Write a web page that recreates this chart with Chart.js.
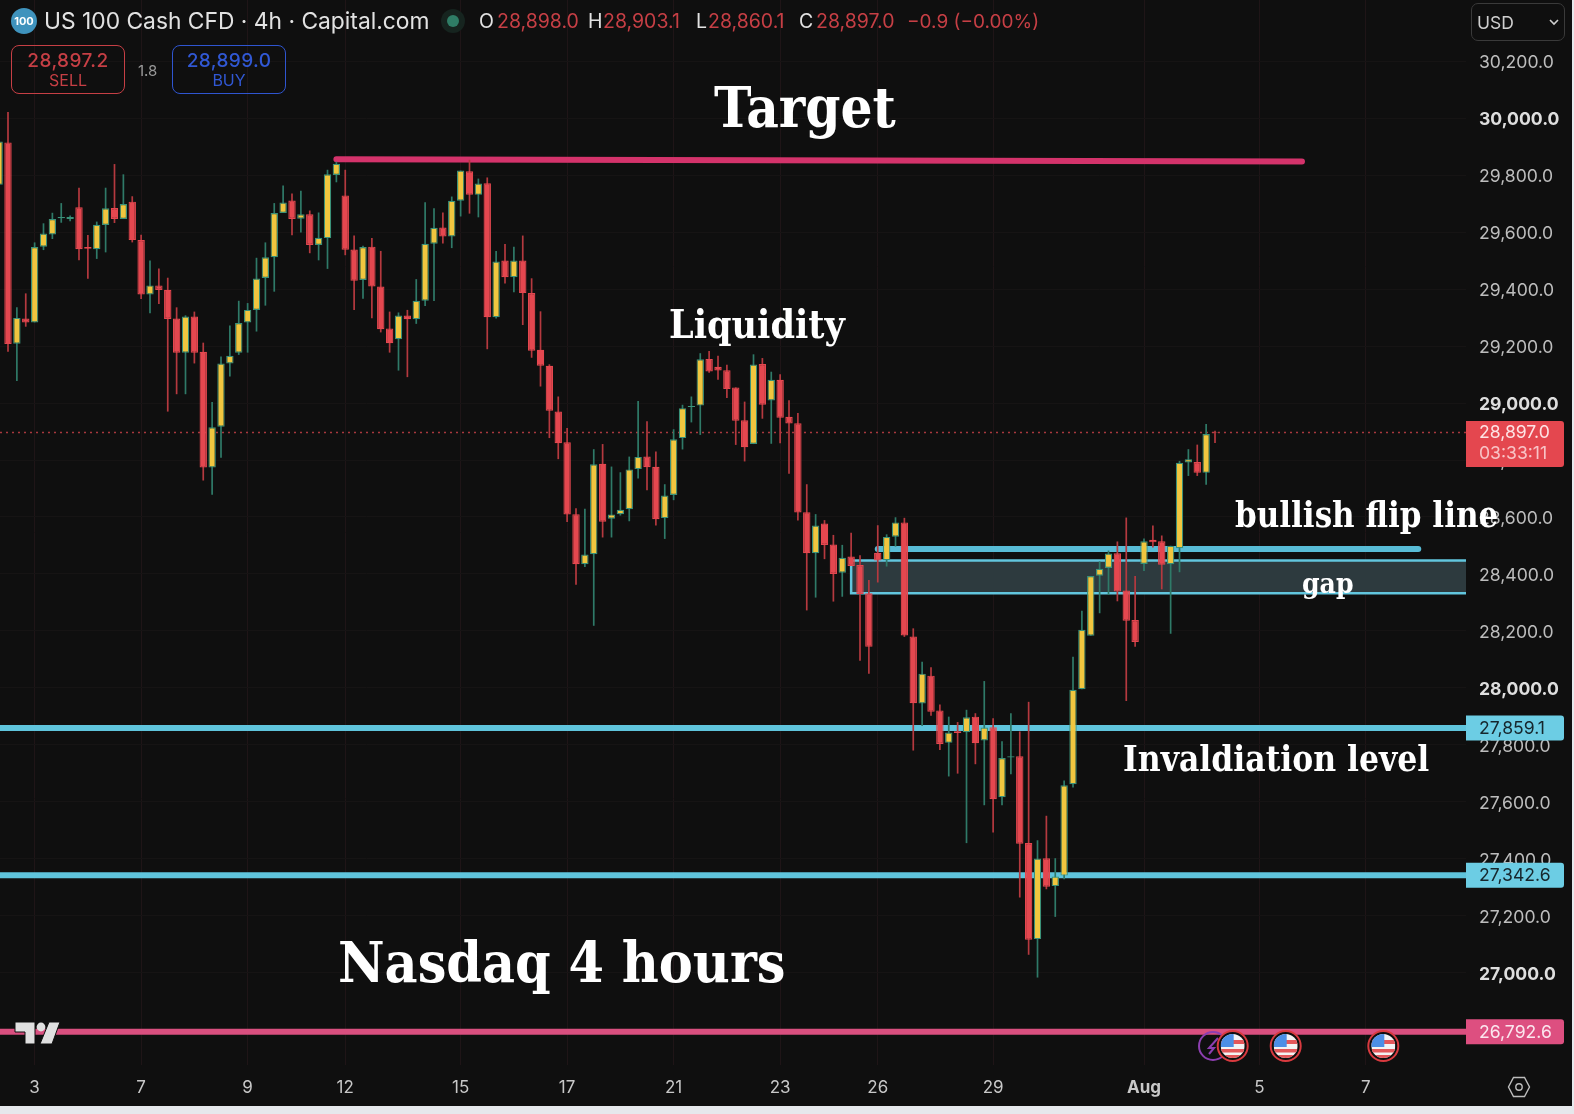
<!DOCTYPE html>
<html>
<head>
<meta charset="utf-8">
<title>US 100 Cash CFD 4h</title>
<script src="https://cdn.jsdelivr.net/npm/chart.js@4"></script>
<style>
  html, body { margin: 0; padding: 0; background: #e6e8ec; overflow: hidden; }
  #wrap { position: relative; width: 1572px; height: 1106px; background: #0f0f0f; font-family: Inter, sans-serif; }
  canvas { display: block; }
  .abs { position: absolute; white-space: nowrap; line-height: 1; }
  .note { position: absolute; white-space: nowrap; line-height: 1; color: #fff; font-weight: 700;
          font-family: "DejaVu Serif Condensed", "DejaVu Serif", serif; }
  .red { color: #c63f45; }
  .btn { position: absolute; top: 45px; width: 112px; height: 47px; border-radius: 8px; border: 1.5px solid; text-align: center; }
  .btn b { display: block; font-weight: 500; font-size: 19px; margin-top: 5px; line-height: 20px; letter-spacing: .4px; }
  .btn span { display: block; font-size: 16px; line-height: 19px; }
</style>
</head>
<body>
<div id="wrap">
  <canvas id="chart" width="1572" height="1106"></canvas>

  <div class="abs" style="left:11px;top:8px;width:26px;height:26px;border-radius:50%;background:#3f93bd;color:#fff;font-size:11px;font-weight:700;text-align:center;line-height:26px">100</div>
  <div class="abs" style="left:44px;top:10px;font-size:22.8px;color:#e2e2e2">US 100 Cash CFD · 4h · Capital.com</div>
  <div class="abs" style="left:441px;top:9px;width:24px;height:24px;border-radius:50%;background:#16241f"></div>
  <div class="abs" style="left:447px;top:15px;width:12px;height:12px;border-radius:50%;background:#2f7d66"></div>
  <div class="abs" style="left:479px;top:12px;font-size:19.5px;color:#e2e2e2">O</div>
  <div class="abs red" style="left:497px;top:12px;font-size:19.5px">28,898.0</div>
  <div class="abs" style="left:588px;top:12px;font-size:19.5px;color:#e2e2e2">H</div>
  <div class="abs red" style="left:603px;top:12px;font-size:19.5px">28,903.1</div>
  <div class="abs" style="left:696px;top:12px;font-size:19.5px;color:#e2e2e2">L</div>
  <div class="abs red" style="left:708px;top:12px;font-size:19.5px">28,860.1</div>
  <div class="abs" style="left:799px;top:12px;font-size:19.5px;color:#e2e2e2">C</div>
  <div class="abs red" style="left:816px;top:12px;font-size:19.5px">28,897.0</div>
  <div class="abs red" style="left:907px;top:12px;font-size:19px">−0.9 (−0.00%)</div>

  <div class="btn" style="left:11px;border-color:#c63f45;color:#c63f45"><b>28,897.2</b><span>SELL</span></div>
  <div class="abs" style="left:138px;top:63px;font-size:15px;color:#9a9a9a">1.8</div>
  <div class="btn" style="left:172px;border-color:#2f55d0;color:#3158d4"><b>28,899.0</b><span>BUY</span></div>

  <div class="abs" style="left:1471px;top:3px;width:92px;height:36px;border:1.5px solid #3a3a3a;border-radius:7px"></div>
  <div class="abs" style="left:1477px;top:14px;font-size:17.5px;color:#cfcfcf">USD</div>
  <svg class="abs" style="left:1548px;top:18px" width="12" height="8"><path d="M2 2 L6 6 L10 2" fill="none" stroke="#cfcfcf" stroke-width="1.6"/></svg>

  <div class="note" style="left:714px;top:79px;font-size:56px">Target</div>
  <div class="note" style="left:669px;top:305px;font-size:39px">Liquidity</div>
  <div class="note" style="left:338px;top:934px;font-size:56.7px">Nasdaq 4 hours</div>
  <div class="note" style="left:1235px;top:498px;font-size:34.5px">bullish flip line</div>
  <div class="note" style="left:1302px;top:570px;font-size:28px">gap</div>
  <div class="note" style="left:1123px;top:741px;font-size:35px">Invaldiation level</div>

  <!-- TradingView mark -->
  <svg class="abs" style="left:12px;top:1019px" width="52" height="28" viewBox="12 1019 52 28">
    <path d="M15 1022 H35 V1044 H25 V1032 H15 Z M54 1022 H60 L52 1044 H40 L49 1022 Z" fill="#e0e0e0" stroke="#0f0f0f" stroke-width="1"/>
    <circle cx="41" cy="1027" r="4.4" fill="#e0e0e0"/>
  </svg>

  <!-- event markers -->
  <svg class="abs" style="left:1190px;top:1025px" width="210" height="42" viewBox="1190 1025 210 42">
    <defs>
      <clipPath id="flagClip"><circle cx="0" cy="0" r="12"/></clipPath>
      <g id="usFlag">
        <circle r="15" fill="#0f0f0f" stroke="#d93a3f" stroke-width="2"/>
        <g clip-path="url(#flagClip)">
          <rect x="-12" y="-12" width="24" height="24" fill="#f3f3f3"/>
          <rect x="-12" y="-6" width="24" height="4" fill="#e4575a"/>
          <rect x="-12" y="3" width="24" height="3.5" fill="#e4575a"/>
          <rect x="-12" y="9" width="24" height="4" fill="#e4575a"/>
          <rect x="-12" y="-12" width="13" height="13" fill="#4c8fe6"/>
        </g>
      </g>
    </defs>
    <circle cx="1213" cy="1046" r="14" fill="none" stroke="#8d3fb0" stroke-width="2"/>
    <path d="M1218 1038 L1209 1048 H1214 L1209 1054" fill="none" stroke="#8d3fb0" stroke-width="2"/>
    <use href="#usFlag" x="1232.7" y="1046"/>
    <use href="#usFlag" x="1285.7" y="1046"/>
    <use href="#usFlag" x="1383.3" y="1046"/>
  </svg>

  <!-- settings -->
  <svg class="abs" style="left:1506px;top:1074px" width="26" height="26" viewBox="0 0 26 26">
    <path d="M7.5 3.5 H18.5 L23.5 13 L18.5 22.5 H7.5 L2.5 13 Z" fill="none" stroke="#bdbdbd" stroke-width="1.4"/>
    <circle cx="13" cy="13" r="3.2" fill="none" stroke="#bdbdbd" stroke-width="1.4"/>
  </svg>
</div>

<script>
// candles, first one is the clipped bar at bar index -1
const firstBar = -1;
const opens = [29766,
  29915,29208,29297,29283,29549,29592,29649,29646,29687,29548,
  29540,29625,29685,29646,29707,29572,29381,29413,29398,29297,
  29177,29304,29180,28774,28917,29139,29177,29283,29327,29439,
  29512,29667,29711,29647,29663,29555,29579,29801,29729,29539,
  29432,29549,29409,29262,29224,29307,29294,29359,29559,29616,
  29585,29710,29814,29731,29772,29301,29500,29442,29500,29386,
  29187,29131,28970,28862,28610,28434,28469,28787,28594,28610,
  28627,28768,28812,28776,28596,28677,28877,28986,28991,29155,
  29127,29115,29055,28940,28856,29137,29009,29082,28952,28929,
  28617,28473,28577,28503,28404,28461,28431,28332,28474,28448,
  28531,28581,28180,27945,28043,27921,27807,27848,27844,27899,
  27815,27862,27616,27756,27760,27455,27118,27402,27304,27341,
  27662,27995,28183,28394,28421,28473,28342,28238,28435,28520,
  28515,28434,28490,28791,28793,28755,28898];
const closes = [29918,
  29207,29299,29283,29548,29595,29646,29653,29653,29540,29542,
  29626,29684,29646,29699,29572,29381,29413,29397,29295,29177,
  29304,29177,28774,28915,29139,29166,29281,29327,29437,29512,
  29667,29704,29646,29663,29555,29580,29803,29840,29538,29429,
  29548,29409,29259,29210,29307,29294,29359,29559,29615,29585,
  29710,29816,29731,29771,29301,29497,29442,29500,29386,29184,
  29131,28973,28859,28609,28434,28468,28785,28583,28609,28625,
  28767,28811,28775,28592,28675,28873,28982,28990,29154,29111,
  29114,29049,28938,28845,29135,28994,29082,28948,28928,28616,
  28473,28570,28502,28400,28457,28428,28330,28144,28447,28530,
  28581,28184,27946,28050,27916,27803,27843,27842,27897,27806,
  27861,27609,27754,27760,27453,27116,27401,27302,27338,27658,
  27993,28204,28393,28418,28472,28338,28236,28161,28515,28511,
  28432,28499,28790,28803,28755,28891,28897];
const highs = [30052,
  30022,29336,29385,29564,29631,29668,29702,29658,29756,29590,
  29637,29756,29839,29803,29726,29591,29500,29472,29440,29336,
  29308,29321,29212,29004,29163,29272,29359,29351,29510,29564,
  29702,29764,29736,29745,29676,29669,29819,29847,29819,29588,
  29552,29579,29534,29321,29318,29327,29435,29705,29684,29669,
  29725,29816,29854,29788,29792,29534,29558,29549,29588,29438,
  29322,29136,29023,28912,28631,28629,28838,28856,28777,28757,
  28812,29007,28936,28830,28715,28908,28994,29023,29175,29183,
  29166,29134,29055,29005,29171,29158,29110,29101,29010,28965,
  28715,28610,28589,28537,28502,28545,28466,28379,28571,28539,
  28599,28597,28209,28092,28072,27942,27899,27880,27923,27911,
  28024,27893,27813,27911,27847,27951,27465,27551,27402,27675,
  28109,28271,28393,28444,28482,28514,28598,28393,28524,28570,
  28535,28499,28797,28838,28854,28926,28903];
const lows = [29654,
  29180,29077,29268,29283,29537,29576,29633,29638,29501,29436,
  29506,29529,29632,29646,29564,29365,29315,29348,28970,29031,
  29031,29139,28728,28678,28808,29093,29169,29177,29251,29342,
  29391,29667,29589,29599,29526,29501,29471,29775,29519,29327,
  29366,29298,29248,29177,29114,29091,29278,29341,29358,29560,
  29544,29655,29665,29652,29189,29297,29420,29389,29274,29159,
  29058,28877,28803,28582,28362,28424,28218,28528,28528,28605,
  28585,28735,28694,28570,28523,28659,28837,28932,28888,29106,
  29082,29018,28853,28795,28856,28945,28857,28859,28752,28588,
  28272,28317,28452,28303,28320,28428,28095,28050,28370,28426,
  28496,28179,27780,27866,27902,27782,27689,27699,27455,27732,
  27588,27492,27588,27697,27264,27063,26983,27293,27196,27328,
  27650,27995,28183,28262,28326,28304,27954,28144,28410,28493,
  28346,28190,28406,28744,28744,28713,28860];

const dateBars = [3, 15, 27, 38, 51, 63, 75, 87, 98, 111, 128, 141, 153];
const dateLabels = ["3", "7", "9", "12", "15", "17", "21", "23", "26", "29", "Aug", "5", "7"];
const priceTicks = [30200, 30000, 29800, 29600, 29400, 29200, 29000, 28800, 28600, 28400,
                    28200, 28000, 27800, 27600, 27400, 27200, 27000];

const barMin = -0.901, barMax = 164.28;
const priceMin = 26676, priceMax = 30415;

const lastPrice = 28897.0;
const invalidationLevel = 27859.1;
const supportLevel = 27342.6;
const bottomLevel = 26792.6;
const targetBars = [37.0, 145.8];
const targetPrices = [29856, 29848];
const flipBars = [98.0, 158.9];
const flipPrice = 28488;
const gapBars = [95.0, 164.28];
const gapPrices = [28332, 28447];

const upBody = "#f0c63f", upEdge = "#3a9179", upWick = "#2f7a68";
const downBody = "#e4474f", downWick = "#b5393f";
const cyan = "#5fc4dc", pink = "#d94f7f";

const bars = opens.map((_, i) => firstBar + i);
const isUp = opens.map((o, i) => closes[i] >= o);

function levelLine(x0, y0, x1, y1, color, width) {
  return {
    type: "line", order: 5, borderColor: color, borderWidth: width, borderCapStyle: "round",
    pointRadius: 0, data: [{ x: x0, y: y0 }, { x: x1, y: y1 }]
  };
}

function priceText(v) {
  return v.toLocaleString("en-US", { minimumFractionDigits: 1, maximumFractionDigits: 1 });
}

function isThousand(c) {
  return !!c.tick && c.tick.value % 1000 === 0;
}

const overlay = {
  id: "overlay",
  beforeDatasetsDraw(chart) {
    const { ctx, scales: { x, y } } = chart;
    const left = x.getPixelForValue(gapBars[0]), right = x.getPixelForValue(gapBars[1]);
    const top = y.getPixelForValue(gapPrices[1]), bottom = y.getPixelForValue(gapPrices[0]);
    ctx.save();
    ctx.fillStyle = "#2d3a3e";
    ctx.fillRect(left, top, right - left, bottom - top);
    ctx.strokeStyle = "#62c6de";
    ctx.lineWidth = 2.5;
    ctx.beginPath();
    ctx.moveTo(right, top);
    ctx.lineTo(left, top);
    ctx.lineTo(left, bottom);
    ctx.lineTo(right, bottom);
    ctx.stroke();
    ctx.restore();
  },
  afterDraw(chart) {
    const { ctx, scales: { y } } = chart;
    const tag = (price, color, text) => {
      const py = y.getPixelForValue(price);
      ctx.fillStyle = color;
      ctx.beginPath();
      ctx.roundRect(1466, py - 12.5, 98, 25, [0, 3, 3, 0]);
      ctx.fill();
      ctx.fillStyle = text;
      ctx.font = "17.6px Inter";
      ctx.textBaseline = "middle";
      ctx.fillText(priceText(price), 1479, py + 0.5);
    };
    ctx.save();
    tag(invalidationLevel, "#6ccde4", "#16262c");
    tag(supportLevel, "#6ccde4", "#16262c");
    tag(bottomLevel, "#dd4f80", "#fbe6ee");

    // last price box, two rows
    ctx.fillStyle = "#e4474f";
    ctx.beginPath();
    ctx.roundRect(1466, 421, 98, 46, [0, 3, 3, 0]);
    ctx.fill();
    ctx.font = "17.6px Inter";
    ctx.textBaseline = "middle";
    ctx.fillStyle = "#fde3e4";
    ctx.fillText(priceText(lastPrice), 1479, 433);
    ctx.fillStyle = "#f8c3c6";
    ctx.fillText("03:33:11", 1479, 454);
    ctx.restore();
  }
};

new Chart(document.getElementById("chart"), {
  type: "bar",
  plugins: [overlay],
  data: {
    datasets: [
      {
        order: 0, grouped: false, barThickness: 7.4, borderSkipped: false, inflateAmount: 0,
        data: bars.map((b, i) => ({ x: b, y: [opens[i], closes[i]] })),
        backgroundColor: isUp.map(u => u ? upBody : downBody),
        borderColor: isUp.map(u => u ? upEdge : downBody),
        borderWidth: 1.2
      },
      {
        order: 1, grouped: false, barThickness: 1.7, borderSkipped: false, inflateAmount: 0,
        data: bars.map((b, i) => ({ x: b, y: [lows[i], highs[i]] })),
        backgroundColor: isUp.map(u => u ? upWick : downWick),
        borderWidth: 0
      },
      levelLine(targetBars[0], targetPrices[0], targetBars[1], targetPrices[1], "#d4336b", 6),
      levelLine(flipBars[0], flipPrice, flipBars[1], flipPrice, "#58bcd6", 6),
      levelLine(barMin, invalidationLevel, barMax, invalidationLevel, cyan, 6),
      levelLine(barMin, supportLevel, barMax, supportLevel, cyan, 6),
      levelLine(barMin, bottomLevel, barMax, bottomLevel, pink, 6),
      Object.assign(levelLine(barMin, lastPrice, barMax, lastPrice, "#a8383e", 1.5),
        { borderDash: [2, 4], borderCapStyle: "butt" })
    ]
  },
  options: {
    responsive: false,
    animation: false,
    devicePixelRatio: 1,
    layout: { padding: 0 },
    plugins: { legend: { display: false }, tooltip: { enabled: false } },
    scales: {
      x: {
        type: "linear", offset: false, min: barMin, max: barMax,
        grid: { offset: false, color: "#1f1517", drawTicks: false },
        border: { display: false },
        afterBuildTicks: s => { s.ticks = dateBars.map(v => ({ value: v })); },
        afterFit: s => { s.height = 41; s.paddingLeft = 0; s.paddingRight = 0; },
        ticks: {
          autoSkip: false, maxRotation: 0, padding: 13, color: "#c8c8c8",
          font: c => ({ family: "Inter", size: 17, weight: c.tick && c.tick.value === dateBars[dateLabels.indexOf("Aug")] ? "700" : "400" }),
          callback: v => dateLabels[dateBars.indexOf(v)]
        }
      },
      y: {
        position: "right", min: priceMin, max: priceMax,
        grid: { color: "#161414", drawTicks: false },
        border: { display: false },
        afterBuildTicks: s => { s.ticks = priceTicks.map(v => ({ value: v })); },
        // the label half heights must not push the plot down from the top edge
        afterFit: s => { s.width = 106; s.paddingTop = 0; s.paddingBottom = 0; },
        ticks: {
          padding: 13, crossAlign: "near", labelOffset: 1.5,
          color: c => isThousand(c) ? "#dedede" : "#bdbdbd",
          font: c => ({ family: "Inter", size: 17.6, weight: isThousand(c) ? "700" : "400" }),
          callback: v => priceText(v)
        }
      }
    }
  }
});
</script>
</body>
</html>
